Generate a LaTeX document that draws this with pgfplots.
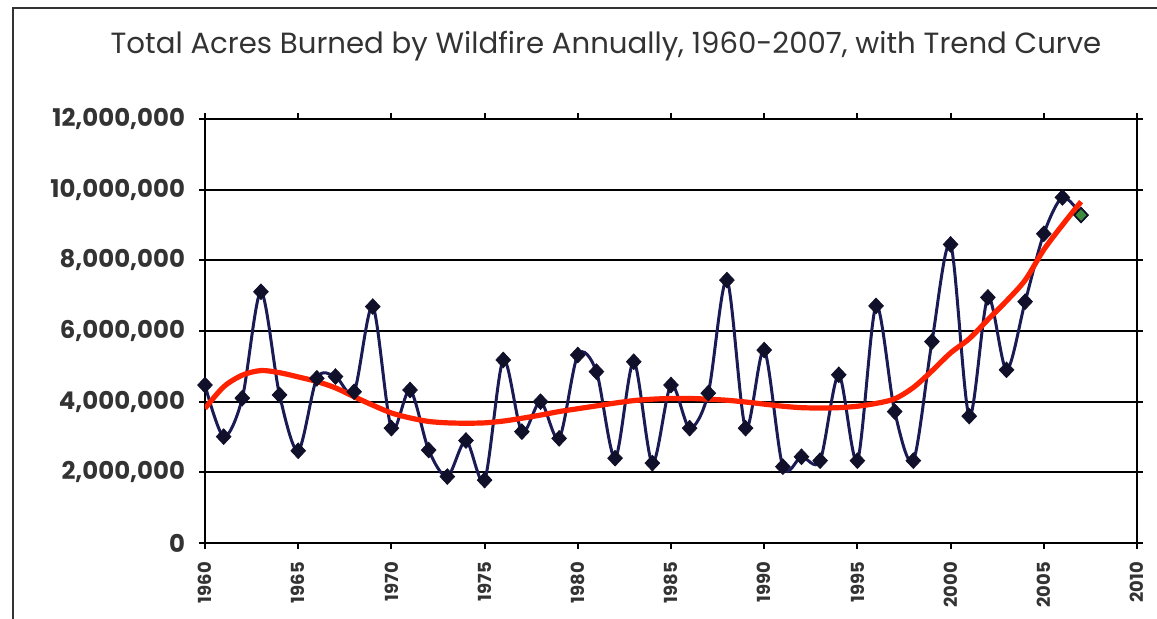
\documentclass[border=0pt]{standalone}
\usepackage{pgfplots}
\pgfplotsset{compat=1.18}
\usepackage{fontspec}
\setmainfont{Poppins}
\definecolor{navyline}{HTML}{1A1A55}
\definecolor{markc}{HTML}{10102A}
\definecolor{trendred}{HTML}{FF2200}
\definecolor{lastgreen}{HTML}{3C8C3C}
\pgfplotstableread{
year acres
1960 4470000
1961 3010000
1962 4100000
1963 7110000
1964 4190000
1965 2610000
1966 4660000
1967 4710000
1968 4280000
1969 6690000
1970 3250000
1971 4330000
1972 2630000
1973 1880000
1974 2900000
1975 1780000
1976 5180000
1977 3150000
1978 4000000
1979 2960000
1980 5320000
1981 4850000
1982 2400000
1983 5130000
1984 2260000
1985 4470000
1986 3250000
1987 4240000
1988 7440000
1989 3250000
1990 5460000
1991 2160000
1992 2440000
1993 2330000
1994 4760000
1995 2330000
1996 6710000
1997 3720000
1998 2330000
1999 5700000
2000 8450000
2001 3590000
2002 6950000
2003 4900000
2004 6830000
2005 8750000
2006 9780000
2007 9280000
}\acrestable
\pgfplotstableread{
year trend
1960 3810000
1961 4420000
1962 4750000
1963 4880000
1964 4820000
1965 4700000
1966 4570000
1967 4390000
1968 4140000
1969 3900000
1970 3680000
1971 3540000
1972 3440000
1973 3400000
1974 3390000
1975 3400000
1976 3450000
1977 3530000
1978 3620000
1979 3720000
1980 3800000
1981 3880000
1982 3960000
1983 4030000
1984 4070000
1985 4090000
1986 4090000
1987 4070000
1988 4040000
1989 3990000
1990 3930000
1991 3870000
1992 3830000
1993 3820000
1994 3830000
1995 3870000
1996 3950000
1997 4080000
1998 4400000
1999 4870000
2000 5380000
2001 5780000
2002 6320000
2003 6850000
2004 7440000
2005 8300000
2006 9000000
2007 9660000
}\trendtable
\begin{document}
\begin{tikzpicture}
\path[use as bounding box] (0,0) rectangle (578.5pt,309.5pt);
\draw[line width=1.2pt, black!80] (6.5pt,-2pt) -- (6.5pt,305.5pt) -- (580pt,305.5pt);
\node[font=\fontsize{14.6}{16}\selectfont, text=black!80] at (303pt,286.5pt) {Total Acres Burned by Wildfire Annually, 1960-2007, with Trend Curve};
\begin{axis}[
  at={(102.5pt,38pt)}, anchor=south west,
  width=466pt, height=212pt, scale only axis,
  xmin=1960, xmax=2010, ymin=0, ymax=12000000,
  xtick={1960,1965,...,2010},
  ytick={0,2000000,4000000,6000000,8000000,10000000,12000000},
  scaled ticks=false,
  ymajorgrids,
  grid style={black, line width=0.9pt},
  axis line style={black, line width=1.2pt},
  tick style={black, line width=1pt},
  tick align=outside,
  major tick length=3pt,
  xticklabel style={rotate=90, anchor=east, xshift=-3pt, font=\fontsize{9}{10}\selectfont\bfseries, text=black!80,
    /pgf/number format/1000 sep={}, /pgf/number format/assume math mode=true},
  yticklabel style={font=\fontsize{12.2}{13}\selectfont\bfseries, text=black!80, xshift=-3.5pt,
    /pgf/number format/fixed, /pgf/number format/precision=0,
    /pgf/number format/1000 sep={,}, /pgf/number format/assume math mode=true},
]
\addplot[color=navyline, line width=1.5pt, smooth, mark=diamond*, mark size=3.9pt,
  mark options={fill=markc, draw=markc, line width=0.4pt, xscale=1.25}] table[x=year, y=acres] {\acrestable};
\addplot[only marks, mark=diamond*, mark size=3.5pt,
  mark options={fill=lastgreen, draw=markc, line width=0.7pt, xscale=1.25}] coordinates {(2007,9280000)};
\addplot[color=trendred, line width=2.6pt, smooth, no marks] table[x=year, y=trend] {\trendtable};
\end{axis}
\end{tikzpicture}
\end{document}
